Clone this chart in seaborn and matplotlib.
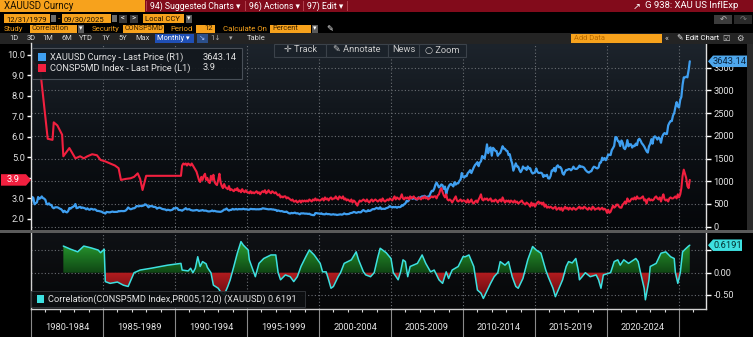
import numpy as np
import pandas as pd
import matplotlib
matplotlib.use("Agg")
import matplotlib.pyplot as plt
import matplotlib.dates as mdates
from matplotlib.patches import Rectangle, Polygon
from matplotlib.colors import LinearSegmentedColormap
from matplotlib.path import Path
from matplotlib import transforms
from matplotlib.ticker import FixedLocator, FixedFormatter, NullFormatter
import seaborn as sns

# ---------------- data ----------------
# XAUUSD month-end price, Dec 1979 .. Sep 2025
gold_start = "1979-12-31"
gold = [
    512,
    653, 637, 494, 518, 535, 653, 614, 631, 666, 629, 619, 590,
    500, 489, 514, 482, 479, 426, 406, 425, 428, 427, 414, 397,
    387, 362, 320, 350, 325, 315, 342, 411, 397, 423, 436, 456,
    499, 408, 414, 429, 437, 412, 422, 414, 405, 382, 405, 380,
    373, 394, 388, 375, 384, 373, 347, 348, 341, 333, 329, 309,
    306, 288, 325, 321, 317, 317, 327, 333, 325, 325, 325, 327,
    345, 339, 345, 344, 343, 345, 357, 384, 423, 401, 383, 391,
    405, 405, 421, 454, 451, 448, 462, 453, 459, 468, 492, 484,
    458, 426, 457, 449, 455, 436, 437, 427, 397, 412, 420, 410,
    394, 387, 383, 378, 361, 373, 368, 359, 367, 375, 408, 401,
    415, 407, 368, 367, 363, 352, 372, 387, 408, 380, 384, 386,
    366, 362, 355, 357, 361, 368, 362, 347, 354, 357, 366, 353,
    354, 353, 341, 336, 337, 343, 357, 340, 349, 339, 334, 332,
    330, 327, 337, 354, 377, 378, 401, 371, 355, 369, 370, 391,
    378, 381, 391, 377, 387, 385, 385, 385, 395, 384, 383, 383,
    374, 376, 392, 389, 385, 387, 383, 382, 384, 382, 387, 387,
    405, 400, 396, 392, 390, 382, 385, 386, 379, 379, 371, 369,
    345, 358, 348, 340, 345, 334, 326, 325, 332, 311, 296, 290,
    304, 297, 301, 310, 293, 296, 288, 273, 294, 292, 294, 288,
    287, 287, 280, 286, 268, 262, 255, 254, 299, 299, 292, 290,
    283, 294, 277, 274, 272, 289, 276, 278, 274, 265, 270, 274,
    266, 267, 258, 264, 268, 271, 265, 273, 293, 279, 275, 279,
    282, 297, 303, 308, 326, 318, 305, 313, 324, 316, 317, 347,
    367, 347, 335, 337, 364, 346, 354, 375, 388, 384, 398, 416,
    399, 395, 427, 388, 394, 394, 391, 408, 415, 429, 453, 438,
    422, 435, 428, 436, 417, 436, 430, 434, 473, 465, 495, 513,
    569, 556, 582, 654, 643, 613, 632, 624, 599, 604, 646, 632,
    650, 669, 662, 680, 659, 650, 665, 673, 743, 789, 783, 834,
    923, 972, 916, 865, 886, 930, 913, 833, 884, 718, 815, 882,
    928, 942, 916, 887, 979, 927, 955, 955, 1008, 1040, 1182, 1097,
    1081, 1118, 1113, 1180, 1207, 1245, 1181, 1247, 1307, 1357, 1386, 1421,
    1333, 1410, 1439, 1556, 1536, 1500, 1628, 1813, 1620, 1722, 1747, 1564,
    1737, 1710, 1669, 1664, 1561, 1604, 1622, 1692, 1772, 1719, 1713, 1675,
    1664, 1578, 1595, 1476, 1393, 1234, 1312, 1395, 1327, 1323, 1253, 1202,
    1244, 1326, 1284, 1296, 1250, 1327, 1282, 1287, 1210, 1171, 1182, 1199,
    1284, 1212, 1183, 1184, 1190, 1172, 1095, 1135, 1115, 1142, 1065, 1061,
    1118, 1238, 1233, 1293, 1215, 1322, 1351, 1309, 1316, 1277, 1173, 1146,
    1211, 1249, 1249, 1268, 1268, 1242, 1269, 1322, 1280, 1271, 1275, 1303,
    1345, 1318, 1325, 1316, 1299, 1253, 1224, 1201, 1192, 1215, 1222, 1282,
    1321, 1313, 1292, 1284, 1305, 1409, 1414, 1520, 1472, 1511, 1464, 1517,
    1589, 1585, 1577, 1687, 1730, 1781, 1975, 1968, 1886, 1879, 1776, 1898,
    1848, 1734, 1708, 1769, 1907, 1770, 1814, 1814, 1743, 1783, 1774, 1829,
    1796, 1909, 1937, 1897, 1838, 1807, 1766, 1711, 1660, 1633, 1769, 1824,
    1928, 1827, 1969, 1990, 1962, 1919, 1965, 1940, 1849, 1983, 2036, 2063,
    2040, 2044, 2230, 2286, 2327, 2327, 2448, 2503, 2635, 2744, 2653, 2625,
    2798, 2858, 3124, 3289, 3289, 3303, 3290, 3448, 3643.14,
]

# CONSP5MD: sparse survey readings before mid-1990, monthly afterwards
infl_early_dates = [
    "1979-12", "1980-08", "1981-02", "1981-06", "1981-07", "1981-10",
    "1982-02", "1982-03", "1982-08", "1983-01", "1983-05", "1983-08",
    "1983-11", "1984-03", "1984-07", "1984-10", "1985-02", "1985-06",
    "1985-10", "1986-01", "1986-03", "1986-07", "1986-11", "1987-02",
    "1987-05", "1987-07", "1987-09", "1987-12", "1990-05",
]
infl_early = [
    9.8, 9.1, 5.9, 5.85, 6.7, 6.55,
    6.1, 5.05, 5.45, 4.95, 5.05, 4.95,
    5.05, 5.15, 5.1, 4.87, 4.8, 4.7,
    4.6, 4.47, 3.9, 3.95, 3.98, 4.05,
    4.22, 3.95, 3.41, 4.1, 4.1,
]
infl_monthly_start = "1990-06-30"
infl_monthly = [
    4.6, 4.7, 4.65, 4.7, 4.6, 4.7, 4.65,
    4.6, 4.7, 4.6, 4.5, 4.4, 4.3, 4.1, 3.9, 3.8, 4.05, 3.9, 4.1,
    4.2, 3.9, 4.0, 3.8, 3.75, 4.1, 3.9, 4.15, 3.8, 3.7, 3.65, 3.9,
    4.2, 3.8, 3.6, 3.5, 3.7, 3.55, 3.5, 3.45, 3.6, 3.4, 3.45, 3.4,
    3.35, 3.45, 3.4, 3.5, 3.35, 3.4, 3.3, 3.45, 3.35, 3.3, 3.4, 3.3,
    3.3, 3.25, 3.35, 3.25, 3.3, 3.25, 3.3, 3.35, 3.25, 3.3, 3.2, 3.3,
    3.35, 3.3, 3.4, 3.25, 3.3, 3.4, 3.3, 3.25, 3.35, 3.3, 3.25, 3.3,
    3.2, 3.15, 3.2, 3.05, 3.1, 3.05, 3.1, 3.1, 3.0, 3.05, 3.0, 2.95,
    2.9, 2.95, 2.85, 2.85, 2.9, 2.8, 2.85, 2.9, 2.8, 2.9, 2.85, 2.9,
    2.85, 2.9, 2.85, 2.95, 2.9, 2.85, 2.95, 2.9, 3.0, 2.9, 2.95, 2.9,
    2.9, 2.95, 3.0, 2.9, 3.05, 2.95, 3.0, 2.9, 3.0, 3.05, 2.95, 3.0,
    3.0, 3.1, 3.0, 2.95, 3.1, 3.05, 3.0, 3.1, 2.95, 3.0, 2.9, 2.95,
    2.9, 2.85, 2.95, 2.8, 2.9, 2.85, 2.75, 2.65, 2.8, 2.9, 2.85, 2.9,
    2.95, 2.9, 2.85, 2.95, 2.85, 2.8, 2.9, 2.95, 2.85, 2.9, 2.95, 2.9,
    2.85, 2.9, 2.95, 2.85, 3.0, 2.9, 2.85, 2.9, 2.95, 2.9, 3.0, 2.95,
    2.9, 3.0, 3.1, 2.95, 3.05, 3.0, 2.95, 3.05, 3.2, 3.0, 2.95, 3.05,
    3.0, 3.05, 2.95, 3.1, 3.0, 3.05, 3.1, 3.0, 3.0, 2.95, 3.05, 3.0,
    2.95, 3.05, 3.0, 3.1, 3.0, 3.05, 2.95, 3.0, 3.05, 3.1, 3.05, 3.1,
    3.1, 3.0, 3.15, 3.2, 3.4, 3.5, 3.3, 3.15, 3.05, 3.2, 2.95, 2.9,
    2.95, 2.9, 2.8, 2.9, 3.0, 3.1, 2.9, 2.85, 2.9, 2.95, 2.85, 2.9,
    2.9, 2.85, 2.8, 2.95, 2.8, 2.85, 2.95, 2.8, 2.75, 2.85, 2.9, 2.8,
    2.95, 3.05, 3.2, 2.95, 2.9, 3.0, 2.95, 3.0, 2.9, 2.95, 3.0, 2.85,
    2.9, 2.85, 2.95, 2.9, 2.8, 2.9, 2.95, 2.85, 3.05, 2.9, 2.8, 2.9,
    2.85, 2.9, 2.8, 2.9, 2.85, 2.8, 2.9, 2.8, 2.85, 2.75, 2.8, 2.85,
    2.9, 2.8, 2.75, 2.7, 2.8, 2.75, 2.7, 2.6, 2.8, 2.65, 2.75, 2.6,
    2.7, 2.8, 2.85, 2.75, 2.8, 2.7, 2.8, 2.6, 2.7, 2.55, 2.6, 2.55,
    2.6, 2.55, 2.5, 2.55, 2.6, 2.45, 2.5, 2.55, 2.45, 2.55, 2.4, 2.5,
    2.6, 2.5, 2.55, 2.45, 2.55, 2.5, 2.45, 2.55, 2.5, 2.45, 2.5, 2.55,
    2.6, 2.5, 2.55, 2.5, 2.6, 2.55, 2.5, 2.45, 2.55, 2.5, 2.45, 2.6,
    2.55, 2.45, 2.5, 2.5, 2.55, 2.45, 2.5, 2.55, 2.45, 2.5, 2.45, 2.3,
    2.45, 2.3, 2.35, 2.5, 2.65, 2.55, 2.6, 2.7, 2.7, 2.6, 2.55, 2.55,
    2.7, 2.75, 2.85, 2.75, 3.0, 2.85, 2.85, 2.95, 3.0, 2.95, 3.05, 2.95,
    3.1, 3.0, 3.0, 3.0, 3.05, 3.1, 2.9, 2.95, 2.75, 2.95, 3.0, 2.9,
    2.95, 2.9, 2.95, 3.05, 3.1, 3.0, 2.95, 3.05, 2.85, 3.05, 3.2, 2.95,
    2.9, 2.95, 2.85, 3.0, 3.05, 3.0, 3.0, 3.05, 3.1, 3.0, 3.2, 3.05,
    3.2, 3.5, 4.1, 4.4, 4.2, 4.0, 3.6, 3.5, 3.9,
]

# 12-period rolling correlation of percent changes
corr_dates = [
    "1982-03", "1982-09", "1983-03", "1983-08", "1983-11", "1984-02", "1984-08", "1984-10",
    "1985-01", "1985-02", "1985-06", "1985-12", "1986-05", "1986-09", "1987-02", "1987-07",
    "1988-04", "1989-06", "1990-05", "1990-06", "1990-11", "1991-01", "1991-03", "1991-05",
    "1991-07", "1991-09", "1991-11", "1992-02", "1992-03", "1992-06", "1992-08", "1992-12",
    "1993-02", "1993-05", "1993-08", "1993-10", "1994-01", "1994-04", "1994-07", "1994-09",
    "1995-01", "1995-02", "1995-05", "1995-07", "1995-10", "1996-02", "1996-08", "1996-12",
    "1997-02", "1997-04", "1997-08", "1997-12", "1998-03", "1998-06", "1998-09", "1999-01",
    "1999-04", "1999-08", "2000-01", "2000-03", "2000-06", "2000-08", "2000-10", "2000-12",
    "2001-04", "2001-06", "2001-09", "2002-03", "2002-07", "2002-09", "2003-01", "2003-03",
    "2003-07", "2003-10", "2004-01", "2004-03", "2004-08", "2004-12", "2005-02", "2005-06",
    "2005-08", "2005-10", "2005-12", "2006-02", "2006-04", "2006-10", "2007-02", "2007-05",
    "2007-09", "2007-12", "2008-04", "2008-07", "2008-10", "2008-12", "2009-03", "2009-08",
    "2009-12", "2010-02", "2010-05", "2010-09", "2010-12", "2011-03", "2011-05", "2011-09",
    "2011-11", "2012-02", "2012-05", "2012-07", "2012-11", "2013-02", "2013-05", "2013-08",
    "2013-10", "2014-02", "2014-06", "2014-10", "2015-01", "2015-05", "2015-09", "2015-11",
    "2016-03", "2016-05", "2016-08", "2016-11", "2017-02", "2017-04", "2017-07", "2017-10",
    "2017-12", "2018-01", "2018-03", "2018-06", "2018-10", "2019-03", "2019-05", "2019-07",
    "2019-09", "2020-03", "2020-06", "2020-09", "2020-11", "2021-02", "2021-06", "2021-12",
    "2022-02", "2022-04", "2022-07", "2022-08", "2022-11", "2022-12", "2023-05", "2023-09",
    "2024-01", "2024-05", "2024-08", "2024-09", "2024-11", "2025-01", "2025-03", "2025-06",
    "2025-08", "2025-09",
]
corr = [
    0.60, 0.53, 0.47, 0.60, 0.58, 0.56, 0.51, 0.45,
    0.53, -0.20, -0.24, -0.21, -0.28, -0.31, 0.00, 0.06,
    0.10, 0.17, 0.21, 0.06, 0.04, 0.10, 0.00, 0.10,
    0.36, 0.14, 0.25, 0.20, 0.12, 0.00, -0.28, -0.35,
    -0.43, -0.50, -0.31, -0.16, 0.14, 0.44, 0.70, 0.62,
    0.51, 0.29, 0.06, -0.09, 0.21, 0.32, 0.40, 0.40,
    0.00, -0.16, -0.05, -0.09, -0.20, -0.09, 0.14, 0.36,
    0.51, 0.40, 0.21, 0.02, 0.02, -0.16, -0.35, -0.31,
    -0.09, 0.00, 0.21, 0.29, 0.47, 0.29, 0.02, -0.05,
    -0.09, 0.00, 0.35, 0.55, 0.45, 0.32, 0.00, -0.16,
    0.02, 0.29, 0.25, -0.09, 0.14, 0.21, 0.40, 0.21,
    0.02, 0.06, -0.16, -0.24, 0.02, -0.13, 0.06, 0.14,
    0.36, 0.36, 0.40, 0.14, -0.39, -0.46, -0.58, -0.35,
    -0.24, -0.09, 0.00, 0.25, 0.17, 0.25, -0.09, -0.31,
    -0.35, -0.13, 0.29, 0.59, 0.51, 0.44, 0.06, -0.09,
    -0.35, -0.54, -0.35, -0.16, 0.14, 0.25, 0.22, 0.32,
    0.06, -0.16, -0.10, 0.00, -0.09, -0.05, -0.16, -0.35,
    -0.05, 0.00, 0.25, 0.29, 0.17, 0.29, 0.21, 0.32,
    0.25, 0.00, -0.35, -0.61, -0.16, 0.14, 0.21, 0.44,
    0.47, 0.36, 0.32, 0.00, -0.24, 0.00, 0.47, 0.55,
    0.60, 0.6191,
]

period_labels = ["1980-1984", "1985-1989", "1990-1994", "1995-1999", "2000-2004",
                 "2005-2009", "2010-2014", "2015-2019", "2020-2024"]
gold_ticks = [0, 500, 1000, 1500, 2000, 2500, 3000, 3500]
infl_ticks = [2.0, 3.0, 4.0, 5.0, 6.0, 7.0, 8.0, 9.0, 10.0]
corr_ticks = [-0.5, 0.0, 0.5]

# ---------------- frames ----------------
month_end = pd.offsets.MonthEnd(0)
gold_df = pd.DataFrame({
    "date": pd.date_range(gold_start, periods=len(gold), freq="ME"),
    "price": gold,
})
infl_df = pd.concat([
    pd.DataFrame({"date": pd.to_datetime(infl_early_dates, format="%Y-%m") + month_end,
                  "value": infl_early}),
    pd.DataFrame({"date": pd.date_range(infl_monthly_start, periods=len(infl_monthly), freq="ME"),
                  "value": infl_monthly}),
], ignore_index=True)
corr_df = pd.DataFrame({
    "date": pd.to_datetime(corr_dates, format="%Y-%m") + month_end,
    "corr": corr,
})

gold_last = gold_df["price"].iloc[-1]
infl_last = infl_df["value"].iloc[-1]
corr_last = corr_df["corr"].iloc[-1]

# ---------------- style ----------------
sns.set_theme(style="dark")
plt.rcParams["font.family"] = ["Roboto", "DejaVu Sans"]
plt.rcParams["axes.unicode_minus"] = False

BLUE = "#3f9ff0"
RED = "#f2203f"
CYAN = "#3de0e0"
ORANGE = "#f7a21c"
TXT = "#e2e2e2"
GRID = "#6a6e73"
FS = 6.7

W, H = 753, 337
fig = plt.figure(figsize=(W / 100, H / 100), dpi=100, facecolor="black")


def fx(x):
    return x / W


def fy(y):
    return 1 - y / H


def box(x0, y0, x1, y1):
    return [fx(x0), fy(y1), (x1 - x0) / W, (y1 - y0) / H]


def rect(x0, y0, x1, y1, fc, ec="none", lw=0.0, alpha=1.0, z=1):
    fig.patches.append(Rectangle((fx(x0), fy(y1)), (x1 - x0) / W, (y1 - y0) / H,
                                 transform=fig.transFigure, facecolor=fc, edgecolor=ec,
                                 linewidth=lw, alpha=alpha, zorder=z))


def put(x, y, s, size=FS, color=TXT, ha="left", z=12, **kw):
    fig.text(fx(x), fy(y), s, fontsize=size, color=color, ha=ha, va="center",
             zorder=z, **kw)


# ---------------- header bars ----------------
rect(0, 0, W, 12, "#820b1b")
rect(0, 0, 145, 11.5, ORANGE)
put(4, 6, "XAUUSD Curncy", size=7, color="#1a1000")
for sx in (146, 245, 303, 347):
    rect(sx, 1, sx + 0.8, 11, "#b0404c")
put(150, 6, "94) Suggested Charts \u25BE", size=6.3, color="white")
put(249, 6, "96) Actions \u25BE", size=6.3, color="white")
put(307, 6, "97) Edit \u25BE", size=6.3, color="white")
put(633, 6, "\u2197", size=6.8, color="white")
put(645, 6, "G 938: XAU US InflExp", size=6.8, color="white")

rect(0, 12, W, 33.5, "black")
rect(4, 14.5, 50, 23, ORANGE)
put(6, 19, "12/31/1979", size=5.5, color="#1a1000")
rect(51, 15.5, 56, 22, "#6c6c6c")
put(57.5, 19, "-", size=6, color=ORANGE)
rect(62, 14.5, 111, 23, ORANGE)
put(64, 19, "09/30/2025", size=5.5, color="#1a1000")
rect(112, 15.5, 117, 22, "#6c6c6c")
rect(119, 15, 127, 23, "#3a3a3a")
put(123, 19, "<", size=5.5, color="white", ha="center")
rect(130, 15, 138, 23, "#3a3a3a")
put(134, 19, ">", size=5.5, color="white", ha="center")
rect(143, 14.5, 184, 23, ORANGE)
put(145, 19, "Local CCY", size=5.5, color="#1a1000")
rect(186, 15, 192, 23, "#5a5a5a")
put(189, 19, "\u25BE", size=5, color="white", ha="center")
rect(714, 15.5, 732, 24, "#3c3c3c")
put(723, 19.5, "\u21B6", size=6, color="#bbbbbb", ha="center")
rect(734, 15.5, 752, 24, "#2a2a2a")
put(743, 19.5, "\u21B7", size=6, color="#777777", ha="center")

put(4, 29, "Study", size=5.6, color=ORANGE)
rect(30, 25, 77, 33, ORANGE)
put(32, 29, "Correlation", size=5.4, color="#3a2200")
rect(78, 25, 84, 33, "#5a5a5a")
put(81, 29, "\u25BE", size=5, color="white", ha="center")
put(92, 29, "Security", size=5.6, color=ORANGE)
rect(123, 25, 164, 33, ORANGE)
put(125, 29, "CONSP5MD", size=5.2, color="#3a2200")
put(170, 29, "Period", size=5.6, color=ORANGE)
rect(196, 25, 215, 33, ORANGE)
put(213, 29, "12", size=5.4, color="#3a2200", ha="right")
put(223, 29, "Calculate On", size=5.6, color=ORANGE)
rect(270, 25, 311, 33, ORANGE)
put(272, 29, "Percent", size=5.4, color="#3a2200")
rect(312, 25, 318, 33, "#5a5a5a")
put(315, 29, "\u25BE", size=5, color="white", ha="center")
put(330, 29, "\u270E", size=6, color="white", ha="center")

rect(0, 33.5, W, 43.5, "#242424")
for cx, s in [(13.5, "1D"), (31, "3D"), (48, "1M"), (66.5, "6M"), (86, "YTD"),
              (106, "1Y"), (123, "5Y"), (143, "Max")]:
    put(cx, 38.5, s, size=5.4, color="#d8d8d8", ha="center")
rect(155, 34.5, 194, 42.5, "#1f4fb5")
put(157, 38.5, "Monthly \u25BE", size=5.4, color="white")
rect(197, 34.5, 208, 42.5, "#2b4f8a")
put(202.5, 38.5, "\u2198", size=5.4, color="#9fc0ff", ha="center")
put(216, 38.5, "1\u2193", size=5.4, color="#aaaaaa", ha="center")
put(231, 38.5, "\u25BE", size=5, color="#aaaaaa", ha="center")
put(256, 38.5, "Table", size=5.4, color="#d8d8d8", ha="center")
rect(571, 34.5, 662, 43, ORANGE)
put(574, 38.7, "Add Data", size=5.4, color="#b86a00")
put(667, 38.5, "\u00AB", size=6, color="#cccccc", ha="center")
put(677, 38.5, "\u270E Edit Chart", size=5.6, color="white")
put(726, 38.5, "\u2611", size=6, color="#cccccc", ha="center")
put(740, 38.5, "\u2699", size=6, color="#cccccc", ha="center")

# ---------------- main panel ----------------
MAIN = box(31, 43.5, 706, 229.5)
XMIN, XMAX = pd.Timestamp("1980-01-01"), pd.Timestamp("2026-11-15")

ax_bg = fig.add_axes(MAIN, zorder=0)
bg_cmap = LinearSegmentedColormap.from_list("bg", ["#05070a", "#0d1116", "#1d242c"])
ax_bg.imshow(np.linspace(0, 1, 256).reshape(-1, 1), cmap=bg_cmap, origin="lower",
             aspect="auto", extent=[0, 1, 0, 1])
ax_bg.set_axis_off()

ax_gold = fig.add_axes(MAIN, zorder=1, facecolor="none")
ax_infl = fig.add_axes(MAIN, zorder=2, facecolor="none", sharex=ax_gold)

sns.lineplot(data=gold_df, x="date", y="price", ax=ax_gold, color=BLUE, linewidth=1.6)
sns.lineplot(data=infl_df, x="date", y="value", ax=ax_infl, color=RED, linewidth=1.5)

ax_gold.set_xlim(XMIN, XMAX)
ax_gold.set_ylim(-62, 4035)
ax_infl.set_ylim(1.489, 10.536)

for a in (ax_gold, ax_infl):
    a.set_xlabel("")
    a.set_ylabel("")
    for sp in a.spines.values():
        sp.set_visible(False)
    a.xaxis.set_major_locator(mdates.YearLocator(5))
    a.tick_params(axis="x", length=0, labelbottom=False)

ax_gold.yaxis.tick_right()
ax_gold.yaxis.set_major_locator(FixedLocator(gold_ticks))
ax_gold.yaxis.set_major_formatter(FixedFormatter([str(v) for v in gold_ticks]))
ax_gold.tick_params(axis="y", which="major", right=True, left=False, length=3.5, width=1,
                    color="white", labelsize=FS, labelcolor=TXT, pad=2,
                    labelright=True, labelleft=False)
ax_gold.spines["right"].set_visible(True)
ax_gold.spines["right"].set_color("#e0e0e0")
ax_gold.spines["right"].set_linewidth(1.0)
ax_gold.grid(True, which="major", axis="both", color=GRID, linestyle=(0, (1, 2)),
             linewidth=0.8)

# the last-value tag sits over the tick label nearest to it
infl_labels = ["" if abs(v - infl_last) < 0.35 else f"{v:.1f}" for v in infl_ticks]
ax_infl.yaxis.tick_left()
ax_infl.yaxis.set_major_locator(FixedLocator(infl_ticks))
ax_infl.yaxis.set_major_formatter(FixedFormatter(infl_labels))
ax_infl.tick_params(axis="y", which="major", left=True, right=False, length=3, width=1,
                    color="white", labelsize=FS, labelcolor=TXT, pad=1.5)
ax_infl.spines["left"].set_visible(True)
ax_infl.spines["left"].set_color("#e0e0e0")
ax_infl.spines["left"].set_linewidth(1.0)
ax_infl.grid(False)

# separator between panels and right scroll strip
rect(0, 230, W, 232.5, "#5a5a5a", z=5)
rect(747, 43.5, W, 229.5, "#2a2a2a", z=5)

# ---------------- correlation panel ----------------
LOW = box(31, 233, 706, 308.5)
ax_cbg = fig.add_axes(LOW, zorder=0)
cbg_cmap = LinearSegmentedColormap.from_list("cbg", ["#060708", "#0f1115"])
ax_cbg.imshow(np.linspace(0, 1, 64).reshape(-1, 1), cmap=cbg_cmap, origin="lower",
              aspect="auto", extent=[0, 1, 0, 1])
ax_cbg.set_axis_off()

ax_c = fig.add_axes(LOW, zorder=1, facecolor="none")
sns.lineplot(data=corr_df, x="date", y="corr", ax=ax_c, color=CYAN, linewidth=1.1, zorder=4)
ax_c.set_xlim(XMIN, XMAX)
ax_c.set_ylim(-0.806, 0.894)
ax_c.set_xlabel("")
ax_c.set_ylabel("")

xn = mdates.date2num(corr_df["date"])
cv = corr_df["corr"].to_numpy()
pos = ax_c.fill_between(xn, cv, 0, where=cv >= 0, interpolate=True, facecolor="none",
                        edgecolor="none")
neg = ax_c.fill_between(xn, cv, 0, where=cv <= 0, interpolate=True, facecolor="none",
                        edgecolor="none")
x0n, x1n = mdates.date2num(XMIN), mdates.date2num(XMAX)
g_cmap = LinearSegmentedColormap.from_list("g", ["#0f4614", "#1f7d25", "#3bb043"])
r_cmap = LinearSegmentedColormap.from_list("r", ["#3a0608", "#7a1014", "#b41c1f"])
ramp = np.linspace(0, 1, 128).reshape(-1, 1)
im_g = ax_c.imshow(ramp, cmap=g_cmap, origin="lower", aspect="auto",
                   extent=[x0n, x1n, 0, 0.9], zorder=2)
im_g.set_clip_path(Path.make_compound_path(*pos.get_paths()), ax_c.transData)
im_r = ax_c.imshow(ramp, cmap=r_cmap, origin="lower", aspect="auto",
                   extent=[x0n, x1n, -0.8, 0], zorder=2)
im_r.set_clip_path(Path.make_compound_path(*neg.get_paths()), ax_c.transData)
ax_c.set_xlim(XMIN, XMAX)
ax_c.set_ylim(-0.806, 0.894)
ax_c.set_aspect("auto")

ax_c.spines["top"].set_visible(False)
ax_c.spines["right"].set_color("#e0e0e0")
ax_c.spines["bottom"].set_color("#d0d0d0")
ax_c.spines["left"].set_visible(True)
ax_c.spines["left"].set_color("#d0d0d0")
for sp in ("right", "bottom", "left"):
    ax_c.spines[sp].set_linewidth(1.0)

corr_labels = ["" if abs(v - corr_last) < 0.2 else f"{v:.2f}" for v in corr_ticks]
ax_c.yaxis.tick_right()
ax_c.yaxis.set_major_locator(FixedLocator(corr_ticks))
ax_c.yaxis.set_major_formatter(FixedFormatter(corr_labels))
ax_c.tick_params(axis="y", right=True, left=False, length=3.5, width=1, color="white",
                 labelsize=FS, labelcolor=TXT, pad=2, labelright=True, labelleft=False)
ax_c.xaxis.set_major_locator(mdates.YearLocator(5))
ax_c.xaxis.set_minor_locator(mdates.YearLocator(1))
ax_c.xaxis.set_major_formatter(NullFormatter())
ax_c.tick_params(axis="x", which="major", bottom=True, length=20.5, width=0.8,
                 color="#8a8a8a", labelbottom=False)
ax_c.tick_params(axis="x", which="minor", bottom=True, length=2.3, width=0.8,
                 color="#d8d8d8")
ax_c.grid(True, which="major", axis="both", color=GRID, linestyle=(0, (1, 2)),
          linewidth=0.8)

lbl_tr = transforms.blended_transform_factory(ax_c.transData, fig.transFigure)
for i, s in enumerate(period_labels):
    mid = pd.Timestamp(1980 + 5 * i, 1, 1) + pd.Timedelta(days=913)
    ax_c.text(mid, fy(327), s, transform=lbl_tr, ha="center", va="center",
              fontsize=FS, color=TXT, clip_on=False)

# ---------------- legends ----------------
rect(32, 48, 242, 79, "#13181e", ec="#4d545c", lw=0.8, alpha=0.93, z=10)
rect(38, 53, 46, 61, BLUE, z=11)
rect(38, 64, 46, 72, RED, z=11)
put(50, 57, "XAUUSD Curncy - Last Price (R1)")
put(203, 57, f"{gold_last:.2f}")
put(50, 68, "CONSP5MD Index - Last Price (L1)")
put(203, 68, f"{infl_last:.1f}")

rect(31, 291, 305, 307, "#0d0f11", ec="#35383c", lw=0.7, alpha=0.9, z=10)
rect(37, 295, 44, 303, CYAN, z=11)
put(47.5, 299, f"Correlation(CONSP5MD Index,PR005,12,0) (XAUUSD) {corr_last:.4f}")

# chart toolbar
for x0, x1, s in [(274, 326, "\u271B Track"), (326, 388, "\u270E Annotate"),
                  (388, 419, "News"), (419, 466, "\u25CB Zoom")]:
    rect(x0, 43.5, x1, 56.5, "#1b222a", ec="#3b424a", lw=0.8, z=10)
    put((x0 + x1) / 2, 50, s, color="#c9c9c9", ha="center")


# ---------------- last-value tags ----------------
def tag(ax, value, x0, x1, side, fc, txt, tc, h=11.5):
    disp_y = ax.transData.transform((mdates.date2num(XMIN), value))[1]
    yc = H - disp_y
    if side == "left":
        pts = [(x0, yc), (x0 + 5, yc - h / 2), (x1, yc - h / 2), (x1, yc + h / 2),
               (x0 + 5, yc + h / 2)]
        tx = (x0 + 5 + x1) / 2
    else:
        pts = [(x0, yc - h / 2), (x1 - 5, yc - h / 2), (x1, yc), (x1 - 5, yc + h / 2),
               (x0, yc + h / 2)]
        tx = (x0 + x1 - 5) / 2
    fig.patches.append(Polygon([(fx(a), fy(b)) for a, b in pts], closed=True,
                               transform=fig.transFigure, facecolor=fc,
                               edgecolor="none", zorder=13))
    put(tx, yc, txt, color=tc, ha="center", z=14)


tag(ax_gold, gold_last, 708, 747, "left", "#4ea7ec", f"{gold_last:.2f}", "#0a2540")
tag(ax_infl, infl_last, 1, 31, "right", RED, f"{infl_last:.1f}", "white")
tag(ax_c, corr_last, 708, 742, "left", CYAN, f"{corr_last:.4f}", "#04302f")

fig.savefig("out.png", dpi=100, facecolor="black")
